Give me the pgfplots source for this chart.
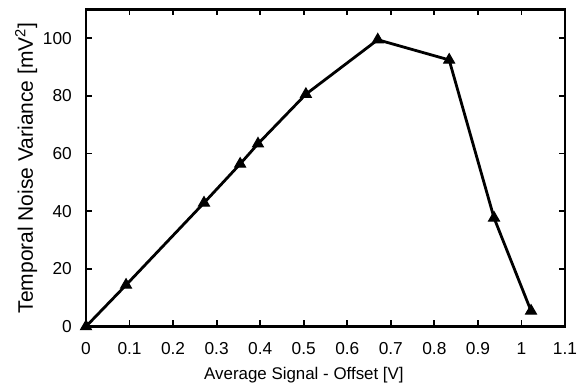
\documentclass[border=0pt]{standalone}
\usepackage{pgfplots}
\pgfplotsset{compat=1.18}
\usepackage{fontspec}
\setmainfont{Liberation Sans}
\newcommand{\tickfont}{\fontsize{17.3bp}{20bp}\selectfont}
\newcommand{\xlabfont}{\fontsize{16.9bp}{19bp}\selectfont}
\newcommand{\ylabfont}{\fontsize{21bp}{24bp}\selectfont}
\begin{document}
\begin{tikzpicture}
\begin{axis}[
  scale only axis,
  width=479bp, height=317bp,
  xmin=0, xmax=1.1, ymin=0, ymax=110,
  xtick={0,0.1,...,1.1},
  xticklabels={0,0.1,0.2,0.3,0.4,0.5,0.6,0.7,0.8,0.9,1,1.1},
  ytick={0,20,40,60,80,100},
  /pgf/number format/assume math mode=true,
  tick align=inside,
  major tick length=6bp,
  axis line style={line width=2.6bp},
  every tick/.style={line width=1.8bp, black},
  tick label style={font=\tickfont, inner sep=0pt},
  xticklabel style={anchor=base, yshift=-28bp},
  yticklabel style={anchor=east, xshift=-14bp},
  xlabel={Average Signal - Offset [V]},
  ylabel={Temporal Noise Variance [mV\textsuperscript{2}]},
  xlabel style={font=\xlabfont, at={(axis description cs:0.455,-0.166)}, anchor=base},
  ylabel style={font=\ylabfont, at={(axis description cs:-0.111,0.5)}, anchor=base},
  clip=false,
]
\addplot[black, line width=2.8bp, mark=triangle*, mark size=6.3bp, mark options={solid, line width=1bp}] coordinates {
(0,0) (0.092,14.4) (0.271,42.9) (0.354,56.4) (0.395,63.4) (0.505,80.6) (0.670,99.5) (0.834,92.5) (0.937,37.7) (1.022,5.4)
};
\end{axis}
\useasboundingbox (current axis.south west) ++(-86bp,-61.5bp) rectangle ([xshift=19bp,yshift=9.5bp]current axis.north east);
\end{tikzpicture}
\end{document}
